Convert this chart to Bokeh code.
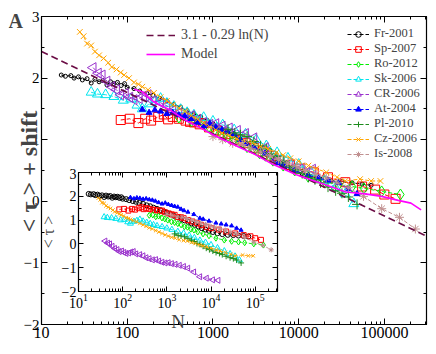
import numpy as np
from bokeh.plotting import figure
from bokeh.models import (Range1d, LinearAxis, LogAxis, Label, Legend, LegendItem,
                          SingleIntervalTicker, LogTicker, NumeralTickFormatter)
from bokeh.embed import file_html
from bokeh.resources import INLINE

FONT = "Liberation Serif"

# ---------------- data (raw <tau> as in the inset; main = tau + shift) ----------------
N_fr = [17, 19, 22, 24, 27, 30, 34, 38, 42, 47, 52, 58, 64, 70, 77, 85, 93, 100, 120, 140,
        170, 200, 240, 290, 350, 420, 500, 600, 720, 860, 1000, 1200, 1450, 1750, 2100, 2500,
        3000, 3600, 4300, 5200, 6200, 7500, 9000, 11000, 14000, 18000, 24000, 32000, 42000,
        55000, 70000]
tau_fr = [2.10, 2.08, 2.09, 2.05, 2.07, 2.02, 2.04, 1.97, 2.03, 1.99, 2.01, 1.94, 1.99, 1.96,
          1.98, 1.93, 1.96, 1.90, 1.88, 1.84, 1.80, 1.77, 1.72, 1.68, 1.62, 1.58, 1.52, 1.47,
          1.42, 1.36, 1.31, 1.25, 1.18, 1.12, 1.05, 0.99, 0.93, 0.86, 0.80, 0.73, 0.66, 0.60,
          0.55, 0.50, 0.45, 0.41, 0.38, 0.37, 0.35, 0.33, 0.31]
shift_fr = -0.05

N_sp = [84, 107, 135, 162, 190, 230, 267, 300, 340, 400, 480, 540, 600, 700, 780, 900, 1100,
        1290, 1500, 1780, 2100, 2400, 3000, 3800, 4800, 6000, 7900, 10000, 15000, 22000, 35000,
        55000, 78000, 100000, 135000]
tau_sp = [1.45, 1.47, 1.40, 1.47, 1.44, 1.50, 1.54, 1.46, 1.50, 1.47, 1.44, 1.42, 1.41, 1.38,
          1.40, 1.33, 1.28, 1.24, 1.22, 1.13, 1.12, 1.08, 1.00, 0.94, 0.87, 0.80, 0.72, 0.66,
          0.60, 0.52, 0.44, 0.37, 0.32, 0.24, 0.17]
shift_sp = -0.13

N_ro = [400, 480, 560, 650, 775, 900, 1050, 1270, 1500, 1770, 2100, 2500, 2930, 3500, 4100,
        5000, 6600, 9000, 12900, 20000, 29300, 42000, 57700, 93000, 154000]
tau_ro = [1.20, 1.22, 1.14, 1.17, 1.09, 1.05, 1.00, 0.93, 0.90, 0.85, 0.80, 0.72, 0.70, 0.62,
          0.58, 0.50, 0.42, 0.34, 0.24, 0.16, 0.11, 0.08, 0.05, 0.00, -0.05]
shift_ro = 0.16

N_sk = [38, 45, 56, 70, 90, 110, 130, 150, 180, 210, 245, 290, 350, 420, 500, 600, 780, 1000,
        1300, 1770, 2400, 3200, 4200, 5600, 7500, 10000, 14000, 20000, 27000, 35000, 44000]
tau_sk = [1.13, 1.10, 1.09, 1.06, 1.00, 1.02, 0.92, 0.86, 0.94, 0.98, 1.03, 0.95, 0.90, 0.85,
          0.80, 0.76, 0.72, 0.66, 0.60, 0.52, 0.45, 0.36, 0.26, 0.15, 0.06, -0.04, -0.17,
          -0.30, -0.42, -0.52, -0.68]
shift_sk = 0.64

N_cr = [40, 46, 51, 58, 66, 75, 84, 95, 107, 120, 138, 155, 175, 200, 245, 290, 340, 400, 475,
        560, 660, 780, 920, 1080, 1280, 1550, 1930, 2400, 3000, 4080, 5600, 7900, 10900, 14500]
tau_cr = [0.12, 0.03, 0.00, -0.10, -0.19, -0.24, -0.32, -0.30, -0.36, -0.40, -0.38, -0.34,
          -0.32, -0.42, -0.45, -0.50, -0.58, -0.62, -0.67, -0.66, -0.72, -0.77, -0.80, -0.79,
          -0.83, -0.86, -0.90, -0.95, -1.02, -1.18, -1.38, -1.44, -1.51, -1.53]
shift_cr = 2.05

N_at = [150, 180, 210, 245, 290, 340, 400, 470, 550, 650, 780, 920, 1080, 1280, 1500, 1770,
        2100, 2450, 3000, 4080, 5600, 6660, 9000, 12900, 17000, 22000, 29300, 38000, 48000]
tau_at = [1.95, 1.90, 1.94, 1.92, 1.88, 1.90, 1.86, 1.84, 1.80, 1.74, 1.68, 1.72, 1.66, 1.62,
          1.58, 1.55, 1.46, 1.40, 1.34, 1.24, 1.08, 1.04, 0.96, 0.88, 0.84, 0.80, 0.76, 0.66,
          0.58]
shift_at = -0.46

N_pl = [1500, 1800, 2100, 2500, 3000, 3600, 4200, 4800, 5600, 6600, 7800, 9200, 11000, 13000,
        15500, 18000, 22000, 27000, 32000, 38000, 48000]
tau_pl = [0.42, 0.36, 0.33, 0.30, 0.22, 0.15, 0.10, 0.02, -0.02, -0.10, -0.18, -0.24, -0.30,
          -0.36, -0.40, -0.45, -0.52, -0.58, -0.62, -0.68, -0.80]
shift_pl = 0.75

N_cz = [28, 31, 34, 38, 42, 47, 53, 60, 66, 75, 84, 92, 105, 120, 135, 150, 175, 205, 245, 290,
        340, 400, 470, 560, 660, 780, 920, 1080, 1280, 1550, 1900, 2400, 2900, 3600, 4400, 5500,
        6600, 8000, 10000, 13000, 16000, 21000, 28000, 35000, 52000, 70000, 90000]
tau_cz = [1.92, 1.85, 1.73, 1.70, 1.60, 1.54, 1.49, 1.42, 1.35, 1.31, 1.26, 1.22, 1.17, 1.10,
          1.07, 1.03, 0.98, 0.93, 0.86, 0.80, 0.74, 0.68, 0.63, 0.56, 0.50, 0.44, 0.38, 0.33,
          0.28, 0.24, 0.18, 0.14, 0.12, 0.06, 0.02, -0.04, -0.08, -0.13, -0.18, -0.25, -0.30,
          -0.36, -0.44, -0.50, -0.47, -0.50, -0.50]
shift_cz = 0.83

N_is = [1000, 1300, 1700, 2200, 2800, 3600, 4600, 5800, 7500, 9500, 12000, 16000, 21000, 28000,
        38000, 57000, 93000, 150000, 230000]
tau_is = [1.25, 1.20, 1.14, 1.12, 1.06, 1.00, 0.94, 0.88, 0.82, 0.76, 0.70, 0.64, 0.58, 0.50,
          0.42, 0.28, 0.08, -0.06, -0.25]
shift_is = -0.20

N_model = [120, 150, 200, 300, 500, 700, 1000, 2000, 3000, 5000, 9400, 19300, 35500, 59600,
           93000, 145000, 204000, 268000]
y_model = [1.82, 1.78, 1.62, 1.50, 1.30, 1.20, 1.08, 0.88, 0.77, 0.60, 0.43, 0.28, 0.15, 0.12,
           0.08, 0.015, -0.03, -0.14]

fit_a, fit_b = 3.1, 0.29
N_fit = [10, 310000]

# name, N, tau, shift, color, marker, angle, main size, inset size, filled
SERIES = [
    ("Fr-2001", N_fr, tau_fr, shift_fr, "#000000", "circle", 0.0, 4, 5, False),
    ("Sp-2007", N_sp, tau_sp, shift_sp, "#ff0000", "square", 0.0, 9, 5, False),
    ("Ro-2012", N_ro, tau_ro, shift_ro, "#00ee00", "diamond", 0.0, 11, 6, False),
    ("Sk-2006", N_sk, tau_sk, shift_sk, "#00e5ee", "triangle", 0.0, 10, 6, False),
    ("CR-2006", N_cr, tau_cr, shift_cr, "#9a32cd", "triangle", np.pi / 2, 10, 6, False),
    ("At-2004", N_at, tau_at, shift_at, "#0000ff", "triangle", 0.0, 6, 4, True),
    ("Pl-2010", N_pl, tau_pl, shift_pl, "#1e8b1e", "cross", 0.0, 10, 6, False),
    ("Cz-2006", N_cz, tau_cz, shift_cz, "#ffa500", "x", 0.0, 8, 5, False),
    ("Is-2008", N_is, tau_is, shift_is, "#c09090", "asterisk", 0.0, 9, 5, False),
]

FIT_COLOR = "#6b0d45"
MODEL_COLOR = "#ff00ff"

W, H = 420, 338


def style_axis(ax, font_size, hidden=False):
    ax.major_tick_in = 6
    ax.major_tick_out = 0
    ax.minor_tick_in = 3
    ax.minor_tick_out = 0
    ax.axis_line_color = "black"
    ax.major_tick_line_color = "black"
    ax.minor_tick_line_color = "black"
    ax.major_label_text_font = FONT
    ax.major_label_text_color = "black"
    ax.major_label_text_font_size = font_size
    if hidden:
        ax.major_label_text_alpha = 0
        ax.major_label_standoff = 0
    else:
        ax.major_label_standoff = 2


# ---------------- main figure ----------------
p = figure(width=W, height=H, x_axis_type="log",
           x_range=Range1d(10, 3.1e5), y_range=Range1d(-2, 3),
           output_backend="svg", toolbar_location=None,
           min_border_left=33, min_border_right=2, min_border_top=8, min_border_bottom=22)
p.grid.visible = False
p.outline_line_color = "black"
p.outline_line_width = 1.2
p.background_fill_color = "white"
p.border_fill_color = "white"

xt = LogTicker(num_minor_ticks=10)
yt = SingleIntervalTicker(interval=1, num_minor_ticks=2)
p.xaxis.ticker = xt
p.xaxis.formatter = NumeralTickFormatter(format="0")
p.yaxis.ticker = yt
style_axis(p.xaxis[0], "16px")
style_axis(p.yaxis[0], "15px")
top_ax = LogAxis(ticker=xt)
style_axis(top_ax, "1px", hidden=True)
p.add_layout(top_ax, "above")
right_ax = LinearAxis(ticker=yt)
style_axis(right_ax, "1px", hidden=True)
p.add_layout(right_ax, "right")

items = []
for name, N, tau, sh, col, mk, ang, sz_main, sz_in, filled in SERIES:
    y = np.array(tau) + sh
    rl = p.line(N, y, line_color=col, line_dash="4 2", line_width=1)
    rs = p.scatter(N, y, marker=mk, size=sz_main, angle=ang, line_color=col,
                   fill_color=col if filled else None, line_width=1)
    items.append(LegendItem(label=name, renderers=[rl, rs]))

y_fit = fit_a - fit_b * np.log(np.array(N_fit, dtype=float))
r_fit = p.line(N_fit, y_fit, line_color=FIT_COLOR, line_dash="7 4", line_width=1.6)
r_model = p.line(N_model, y_model, line_color=MODEL_COLOR, line_width=1.6)

leg = Legend(items=items, location=(306, 163), orientation="vertical",
             label_text_font=FONT, label_text_font_size="12.5px",
             glyph_width=22, glyph_height=14, label_height=14, spacing=0,
             padding=0, margin=0, label_standoff=5,
             border_line_alpha=0, background_fill_alpha=0)
p.add_layout(leg)

leg2 = Legend(items=[LegendItem(label="3.1 - 0.29 ln(N)", renderers=[r_fit]),
                     LegendItem(label="Model", renderers=[r_model])],
              location=(105, 262), orientation="vertical",
              label_text_font=FONT, label_text_font_size="14px",
              glyph_width=29, glyph_height=16, label_height=16, spacing=3,
              padding=0, margin=0, label_standoff=6,
              border_line_alpha=0, background_fill_alpha=0)
p.add_layout(leg2)
p.styles = {"position": "absolute", "left": "8px", "top": "8px", "z-index": "1"}

# ---------------- transparent overlay with y title and panel letter ----------------
lab = figure(width=40, height=H, x_range=Range1d(0, 40), y_range=Range1d(0, H),
             output_backend="svg", toolbar_location=None,
             min_border_left=0, min_border_right=0, min_border_top=0, min_border_bottom=0,
             x_axis_location=None, y_axis_location=None)
lab.grid.visible = False
lab.outline_line_color = None
lab.background_fill_alpha = 0
lab.border_fill_alpha = 0
lab.add_layout(Label(x=20, y=H - 163, text="< τ > + shift", angle=np.pi / 2,
                     text_align="center", text_baseline="alphabetic", text_font=FONT,
                     text_font_size="24px", text_font_style="bold"))
lab.add_layout(Label(x=0, y=H - 1, text="A", text_align="left", text_baseline="top",
                     text_font=FONT, text_font_size="20px", text_font_style="bold"))
lab.styles = {"position": "absolute", "left": "8px", "top": "8px", "z-index": "6"}

# ---------------- inset ----------------
ins = figure(width=243, height=166, x_axis_type="log",
             x_range=Range1d(10, 3.2e5), y_range=Range1d(-2, 3),
             output_backend="svg", toolbar_location=None,
             min_border_left=36, min_border_right=2, min_border_top=4, min_border_bottom=40)
ins.grid.visible = False
ins.outline_line_color = "black"
ins.outline_line_width = 1.2
ins.background_fill_color = "white"
ins.border_fill_alpha = 0
ixt = LogTicker(num_minor_ticks=10)
iyt = SingleIntervalTicker(interval=1, num_minor_ticks=2)
ins.xaxis.ticker = ixt
ins.yaxis.ticker = iyt
style_axis(ins.xaxis[0], "14px")
style_axis(ins.yaxis[0], "14px")
ins.xaxis.major_tick_in = 5
ins.yaxis.major_tick_in = 5
ins.xaxis.axis_label = "N"
ins.xaxis.axis_label_text_font = FONT
ins.xaxis.axis_label_text_font_size = "19px"
ins.xaxis.axis_label_text_font_style = "normal"
ins.xaxis.axis_label_standoff = 0
ins.yaxis.axis_label = "< τ >"
ins.yaxis.axis_label_text_font = FONT
ins.yaxis.axis_label_text_font_size = "16px"
ins.yaxis.axis_label_text_font_style = "normal"
ins.yaxis.axis_label_standoff = 2
itop = LogAxis(ticker=ixt)
style_axis(itop, "1px", hidden=True)
itop.major_tick_in = 5
ins.add_layout(itop, "above")
iright = LinearAxis(ticker=iyt)
style_axis(iright, "1px", hidden=True)
iright.major_tick_in = 5
ins.add_layout(iright, "right")

for name, N, tau, sh, col, mk, ang, sz_main, sz_in, filled in SERIES:
    ins.line(N, tau, line_color=col, line_dash="3 2", line_width=0.9)
    ins.scatter(N, tau, marker=mk, size=sz_in, angle=ang, line_color=col,
                fill_color=col if filled else None, line_width=1)

ins.styles = {"position": "absolute", "left": "36px", "top": "168px", "z-index": "5"}

open("out.html", "w").write(file_html([p, ins, lab], INLINE))
